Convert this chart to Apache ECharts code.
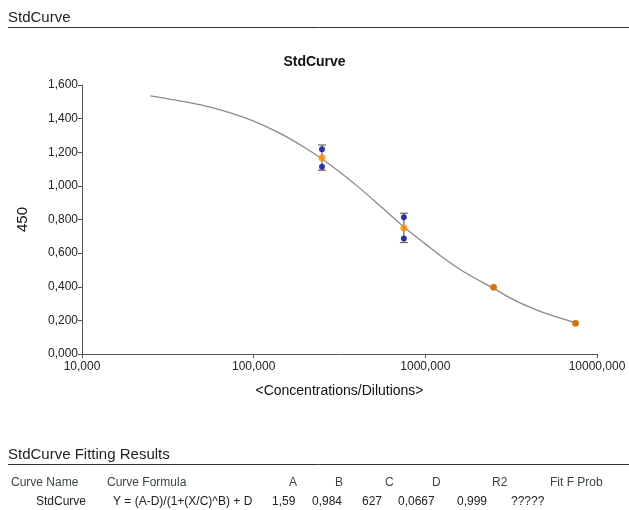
<!DOCTYPE html>
<html>
<head>
<meta charset="utf-8">
<script src="https://cdn.jsdelivr.net/npm/echarts@6/dist/echarts.min.js"></script>
<style>html,body{margin:0;padding:0;background:#fff}#c{width:629px;height:510px}</style>
</head>
<body>
<div id="c"></div>
<script>
// ---- data ----
const concentrations = [250, 750, 2500, 7500];
const replicate1 = [1.218, 0.814, 0.397, 0.183];
const replicate2 = [1.114, 0.687, 0.397, 0.183];
const means = [1.168, 0.750, 0.397, 0.183];
const sdValues = [0.075, 0.087, 0, 0];
const curveX = [25, 35, 50, 70, 100, 150, 200, 250, 320, 400, 500, 620, 750, 1000, 1300, 1700, 2500, 3300, 4500, 6000, 7500];
const curveY = [1.535, 1.51, 1.48, 1.44, 1.385, 1.30, 1.225, 1.16, 1.08, 1.00, 0.915, 0.83, 0.755, 0.655, 0.565, 0.485, 0.39, 0.32, 0.26, 0.216, 0.186];
const tableHeaders = ['Curve Name', 'Curve Formula', 'A', 'B', 'C', 'D', 'R2', 'Fit F Prob'];
const tableRow = ['StdCurve', 'Y = (A-D)/(1+(X/C)^B) + D', '1,59', '0,984', '627', '0,0667', '0,999', '?????'];

const headerX = [11, 107, 289, 335, 385, 432, 492, 550];
const rowX = [36, 113, 272, 312, 362, 398, 457, 511];

const FONT = '"Liberation Sans", Arial, sans-serif';
const fmt = v => Number(v).toFixed(3).replace('.', ',');

const chart = echarts.init(document.getElementById('c'), null, {renderer: 'canvas'});

const graphics = [
  {type: 'text', left: 8, top: 10, style: {text: 'StdCurve', font: '15px ' + FONT, fill: '#222'}},
  {type: 'line', shape: {x1: 8, y1: 27.5, x2: 629, y2: 27.5}, style: {stroke: '#333', lineWidth: 1}},
  {type: 'text', left: 8, top: 447, style: {text: 'StdCurve Fitting Results', font: '15px ' + FONT, fill: '#222'}},
  {type: 'line', shape: {x1: 8, y1: 464.5, x2: 629, y2: 464.5}, style: {stroke: '#333', lineWidth: 1}}
];
tableHeaders.forEach((t, i) => graphics.push({type: 'text', left: headerX[i], top: 477, style: {text: t, font: '12px ' + FONT, fill: '#3a4646'}}));
tableRow.forEach((t, i) => graphics.push({type: 'text', left: rowX[i], top: 496, style: {text: t, font: '12px ' + FONT, fill: '#222'}}));

const errData = concentrations.map((c, i) => [c, means[i] - sdValues[i], means[i] + sdValues[i]]).filter((d, i) => sdValues[i] > 0);

chart.setOption({
  animation: false,
  backgroundColor: '#fff',
  title: {text: 'StdCurve', left: 'center', top: 50, textStyle: {fontFamily: FONT, fontSize: 14, fontWeight: 'bold', color: '#111'}},
  grid: {left: 82, right: 32, top: 85, bottom: 156, containLabel: false, outerBoundsMode: 'none'},
  xAxis: {
    type: 'log', logBase: 10, min: 10, max: 10000,
    name: '<Concentrations/Dilutions>', nameLocation: 'middle', nameGap: 30,
    nameTextStyle: {fontFamily: FONT, fontSize: 14, color: '#111'},
    axisLine: {lineStyle: {color: '#555', width: 1}},
    axisTick: {show: true, length: 4, lineStyle: {color: '#555'}},
    minorTick: {show: false},
    splitLine: {show: false},
    axisLabel: {formatter: fmt, fontFamily: FONT, fontSize: 12, color: '#222', margin: 7}
  },
  yAxis: {
    type: 'value', min: 0, max: 1.6, interval: 0.2,
    name: '450', nameLocation: 'middle', nameGap: 52, nameRotate: 90,
    nameTextStyle: {fontFamily: FONT, fontSize: 15, color: '#111'},
    axisLine: {show: true, lineStyle: {color: '#555', width: 1}},
    axisTick: {show: true, length: 4, lineStyle: {color: '#555'}},
    splitLine: {show: false},
    axisLabel: {formatter: fmt, fontFamily: FONT, fontSize: 12, color: '#222', margin: 4}
  },
  graphic: graphics,
  series: [
    {
      type: 'line', name: 'fit', data: curveX.map((x, i) => [x, curveY[i]]),
      smooth: 0.3, symbol: 'none', lineStyle: {color: '#8a8a8a', width: 1.3}, z: 1
    },
    {
      type: 'custom', name: 'err', data: errData, z: 2,
      renderItem: function (params, api) {
        const x = api.value(0);
        const lo = api.coord([x, api.value(1)]);
        const hi = api.coord([x, api.value(2)]);
        const w = 4;
        const st = {stroke: '#666', lineWidth: 1.2};
        return {type: 'group', children: [
          {type: 'line', shape: {x1: lo[0], y1: lo[1], x2: hi[0], y2: hi[1]}, style: st},
          {type: 'line', shape: {x1: hi[0] - w, y1: hi[1], x2: hi[0] + w, y2: hi[1]}, style: st},
          {type: 'line', shape: {x1: lo[0] - w, y1: lo[1], x2: lo[0] + w, y2: lo[1]}, style: st}
        ]};
      }
    },
    {
      type: 'scatter', name: 'rep', z: 3,
      data: concentrations.map((c, i) => [c, replicate1[i]]).concat(concentrations.map((c, i) => [c, replicate2[i]])),
      symbolSize: 6, itemStyle: {color: '#0a0a9e'}
    },
    {
      type: 'scatter', name: 'mean', z: 4,
      data: concentrations.map((c, i) => [c, means[i]]),
      symbolSize: 7, itemStyle: {color: '#ff8c00'}
    }
  ]
});
</script>
</body>
</html>
